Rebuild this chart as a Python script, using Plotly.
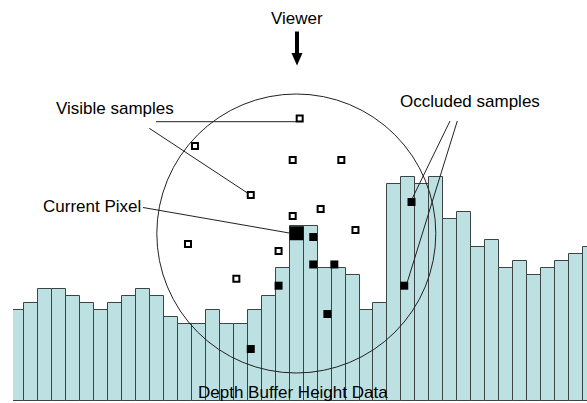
import plotly.graph_objects as go

# ---------------- data ----------------
# depth buffer height per pixel column (in depth units)
heights = [13, 14, 16, 16, 15, 14, 13, 14, 15, 16, 15, 12, 11, 11, 13, 11, 11, 13, 15, 19,
           25, 25, 19, 19, 18, 13, 14, 31, 32, 31, 32, 26, 27, 22, 23, 19, 20, 18, 19, 20,
           21, 22]
columns = list(range(len(heights)))

# visible (unoccluded) sample positions
vis_x = [20.22, 12.73, 19.72, 23.20, 16.72, 21.72, 19.72, 24.21, 12.23, 18.71, 15.69]
vis_y = [40.39, 36.46, 34.46, 34.46, 29.46, 27.46, 26.46, 24.46, 22.46, 21.46, 17.51]

# occluded sample positions
occ_x = [18.71, 16.72, 21.19, 21.19, 22.70, 22.20, 28.22, 27.70]
occ_y = [16.51, 7.46, 23.46, 19.54, 19.54, 12.46, 28.46, 16.51]

# current pixel
cur_x = [20]
cur_y = [24]

labels = ["Viewer", "Visible samples", "Current Pixel", "Occluded samples",
          "Depth Buffer Height Data"]

# ---------------- geometry helpers (pixel -> data) ----------------
W, H = 587, 403
XS, XOFF = 13.98, 17.0
YS, YOFF = 7.0, 0.25


def dx(px):
    return (px - XOFF) / XS


def dy(py):
    return (H - py) / YS - YOFF


fig = go.Figure()

fig.add_bar(x=columns, y=heights, width=1,
            marker=dict(color="#bde0e3", line=dict(color="#3d4444", width=1)),
            hoverinfo="skip")

fig.add_scatter(x=vis_x, y=vis_y, mode="markers",
                marker=dict(symbol="square", size=6, color="white",
                            line=dict(color="black", width=2)),
                hoverinfo="skip")
fig.add_scatter(x=occ_x, y=occ_y, mode="markers",
                marker=dict(symbol="square", size=8, color="black",
                            line=dict(width=0)),
                hoverinfo="skip")
fig.add_scatter(x=cur_x, y=cur_y, mode="markers",
                marker=dict(symbol="square", size=14, color="black",
                            line=dict(width=0)),
                hoverinfo="skip")

shapes = []
# sampling hemisphere circle
shapes.append(dict(type="circle", xref="x", yref="y",
                   x0=dx(156.8), x1=dx(435.8), y0=dy(373), y1=dy(94),
                   line=dict(color="#222222", width=1), layer="above"))

# leader lines
leaders = [
    ((156, 121.7), (296, 121.7)),
    ((149.3, 128.3), (247, 192.7)),
    ((143, 207.5), (289.3, 233)),
    ((450, 121), (412, 199)),
    ((457.3, 121), (407, 283)),
]
for (a, b) in leaders:
    shapes.append(dict(type="line", xref="x", yref="y",
                       x0=dx(a[0]), y0=dy(a[1]), x1=dx(b[0]), y1=dy(b[1]),
                       line=dict(color="#222222", width=1), layer="above"))

# viewer arrow: shaft + head
shapes.append(dict(type="rect", xref="x", yref="y",
                   x0=dx(295), x1=dx(299), y0=dy(53.5), y1=dy(31.5),
                   fillcolor="black", line=dict(width=0), layer="above"))
head = "M {} {} L {} {} L {} {} Z".format(dx(291.5), dy(53), dx(302.5), dy(53),
                                           dx(297), dy(65.5))
shapes.append(dict(type="path", xref="x", yref="y", path=head,
                   fillcolor="black", line=dict(width=0), layer="above"))

text_pos = [(296.5, 18.5), (114.5, 108.5), (91.5, 206.5), (470, 101), (292.8, 392.5)]
annotations = []
for t, (px, py) in zip(labels, text_pos):
    annotations.append(dict(text=t, xref="paper", yref="paper",
                            x=px / W, y=1 - py / H, xanchor="center", yanchor="middle",
                            showarrow=False,
                            font=dict(family="Liberation Sans, Arial", size=17,
                                      color="black")))

fig.update_layout(
    width=W, height=H,
    margin=dict(l=0, r=0, t=0, b=0),
    paper_bgcolor="white", plot_bgcolor="white",
    showlegend=False, bargap=0,
    xaxis=dict(domain=[13 / W, 1], range=[dx(13), dx(W)], visible=False,
               fixedrange=True),
    yaxis=dict(range=[dy(H), dy(0)], visible=False, fixedrange=True),
    shapes=shapes, annotations=annotations,
)

fig.write_html("out.html", config={"displayModeBar": False})

# remove the browser's default page margin so the figure sits at (0, 0)
with open("out.html", "r", encoding="utf-8") as f:
    html = f.read()
html = html.replace("<head>", "<head><style>html,body{margin:0;padding:0;overflow:hidden;}</style>", 1)
with open("out.html", "w", encoding="utf-8") as f:
    f.write(html)
